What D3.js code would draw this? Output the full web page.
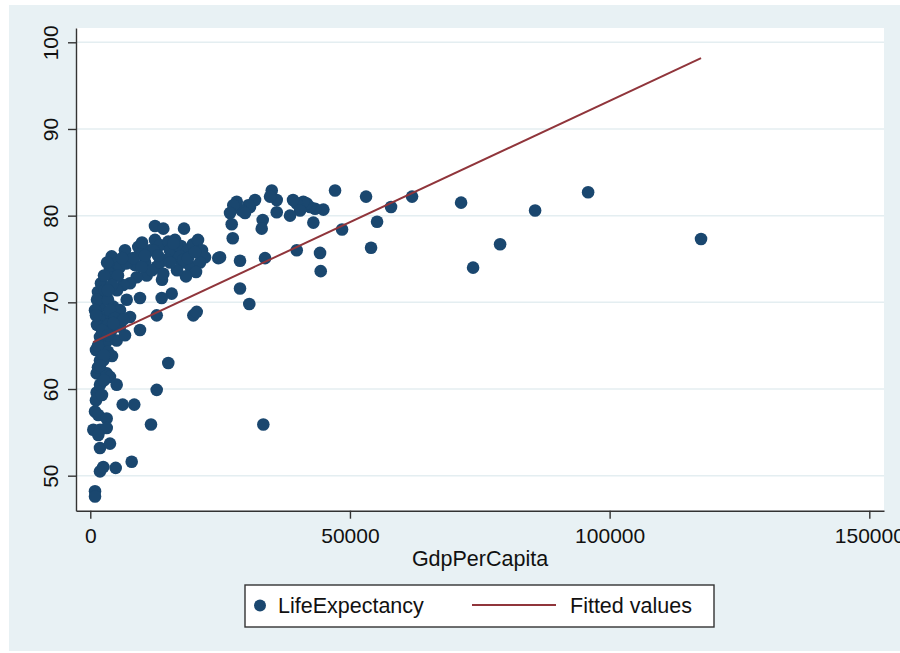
<!DOCTYPE html>
<html lang="en">
<head>
<meta charset="UTF-8">
<title>LifeExpectancy vs GdpPerCapita</title>
<script src="https://cdn.jsdelivr.net/npm/d3@7"></script>
<style>
    body { margin: 0; background: #fff; }
    svg text { font-family: "Liberation Sans", Arial, Helvetica, sans-serif; fill: #111; }
</style>
</head>
<body>
<div id="chart"></div>
<script>
// GDP per capita / life expectancy
var gdpPerCapita = [
    117600, 95860, 85650, 78910, 73710, 71400, 61960, 57910, 55220, 54060, 53100, 48480, 47130,
    44240, 44370, 39750, 42950, 44880, 43280, 42310, 41680, 41020, 39750, 39040, 40390, 38460,
    35900, 35900, 34940, 34610, 33650, 33320, 33200, 33010,
    30760, 31720, 30430, 29160, 28200, 27540, 26910, 27230, 29800, 27430, 28830, 28830, 30620, 24650,
    18050, 12460, 14060, 19840, 20490, 15020, 12790, 11690, 15680, 13750, 12790, 9570, 9570,
    16310, 17470, 18620, 19780, 20740, 21510, 22090, 16510, 17660, 19200, 21130, 20360, 18430, 16700, 24980,
    4120, 3790, 4430, 5080, 5720, 7650, 9240, 9570, 11500, 12460, 13420, 15020, 15350, 16640, 17280,
    14710, 12790, 10860, 8940, 7650, 6680, 10540, 11880, 13810, 8610, 9960, 13420, 6300, 5140,
    7010, 8280, 12130, 9900, 17910, 14060, 15990,
    2500, 1870, 2830, 4430, 5720, 7010, 7650, 5720, 4120, 1870, 2500, 5080, 3160, 1480, 1290,
    1870, 3410, 3790, 1290, 3410, 910, 4760, 6360, 4430, 6680, 3410, 1100, 4180, 2060, 2830,
    1870, 2500, 1230, 3160, 3790, 5080, 1230, 1870, 910, 1540, 3160, 580, 1870, 3160, 1540,
    1870, 3790, 1870, 2500, 4890, 7970, 910, 910, 6240, 8470, 1100, 2250, 2640, 1480,
    3240, 5340, 4180, 2640, 6110, 3410, 1100, 2250, 3410, 1480, 2640, 1870,
    10540, 13040, 18810, 20170, 15350
];
var lifeExpectancy = [
    77.3, 82.7, 80.6, 76.7, 74.0, 81.5, 82.2, 81.0, 79.3, 76.3, 82.2, 78.4, 82.9,
    75.7, 73.6, 76.0, 79.2, 80.7, 80.8, 81.0, 81.4, 81.6, 81.4, 81.8, 80.6, 80.0,
    81.8, 80.4, 82.9, 82.2, 75.1, 55.9, 79.5, 78.5,
    81.0, 81.8, 81.2, 80.6, 81.6, 81.2, 80.3, 79.0, 80.3, 77.4, 74.8, 71.6, 69.8, 75.1,
    78.5, 78.8, 78.5, 68.5, 68.9, 63.0, 59.9, 55.9, 71.0, 70.5, 68.5, 66.8, 70.5,
    77.2, 76.5, 75.9, 76.7, 77.2, 76.0, 75.2, 75.4, 74.6, 74.2, 74.6, 73.5, 73.0, 73.7, 75.2,
    75.3, 73.9, 72.9, 74.5, 74.1, 74.9, 76.4, 75.6, 76.0, 77.2, 76.6, 77.0, 76.0, 76.6, 75.3,
    74.9, 74.1, 73.1, 72.9, 72.2, 76.0, 74.6, 73.7, 72.6, 74.3, 76.9, 74.6, 72.0, 71.4,
    74.5, 75.1, 76.0, 74.1, 74.9, 73.3, 76.8,
    70.6, 69.5, 68.3, 69.5, 69.1, 70.3, 68.3, 67.2, 66.8, 66.0, 64.9, 65.6, 65.5, 71.2, 70.3,
    68.0, 70.3, 69.1, 67.4, 67.4, 69.1, 68.2, 68.0, 67.6, 66.2, 64.3, 64.5, 63.8, 72.2, 71.4,
    63.3, 63.3, 61.8, 61.8, 61.4, 60.5, 59.6, 60.5, 57.4, 57.0, 56.6, 55.3, 55.3, 55.5, 54.7,
    53.2, 53.7, 50.5, 51.0, 50.9, 51.6, 48.2, 47.6, 58.2, 58.2, 58.7, 59.3, 61.0, 62.5,
    74.6, 73.1, 72.0, 73.1, 75.1, 71.4, 68.5, 66.8, 66.2, 65.0, 63.9, 62.7,
    75.4, 75.4, 75.1, 75.8, 74.6
];
var xTicks = [0, 50000, 100000, 150000];
var yTicks = [50, 60, 70, 80, 90, 100];
// linear fit
var fitIntercept = 65.25;
var fitSlope = 0.00028;

var w = 900, h = 653;
var plot = { left: 76, right: 884, top: 28, bottom: 510.7 };

var points = gdpPerCapita.map(function(g, i) { return { gdp: g, le: lifeExpectancy[i] }; });

var svg = d3.select('#chart').append('svg')
    .attr('width', w)
    .attr('height', h);

// outer graph region
svg.append('rect')
    .attr('x', 9).attr('y', 5)
    .attr('width', w - 9).attr('height', 646)
    .attr('fill', '#e8f1f4');

svg.append('rect')
    .attr('x', plot.left).attr('y', plot.top)
    .attr('width', plot.right - plot.left)
    .attr('height', plot.bottom - plot.top)
    .attr('fill', '#fff');

var x = d3.scaleLinear().domain([-2750, 152830]).range([plot.left, plot.right]);
var y = d3.scaleLinear().domain([45.96, 101.65]).range([plot.bottom, plot.top]);

// gridlines
svg.append('g').selectAll('line')
    .data(yTicks)
    .enter().append('line')
    .attr('x1', plot.left).attr('x2', plot.right)
    .attr('y1', function(d) { return y(d); })
    .attr('y2', function(d) { return y(d); })
    .attr('stroke', '#e4eef1')
    .attr('stroke-width', 1.5);

// scatter
svg.append('g').selectAll('circle')
    .data(points)
    .enter().append('circle')
    .attr('cx', function(d) { return x(d.gdp); })
    .attr('cy', function(d) { return y(d.le); })
    .attr('r', 6.3)
    .attr('fill', '#1a476f');

// fitted line over the range of x
var gx = d3.extent(gdpPerCapita);
var fit = gx.map(function(g) { return { gdp: g, le: fitIntercept + fitSlope * g }; });
svg.append('path')
    .datum(fit)
    .attr('fill', 'none')
    .attr('stroke', '#90353b')
    .attr('stroke-width', 2)
    .attr('d', d3.line()
        .x(function(d) { return x(d.gdp); })
        .y(function(d) { return y(d.le); }));

// axes
var xAxis = svg.append('g')
    .attr('transform', 'translate(0,' + plot.bottom + ')')
    .call(d3.axisBottom(x).tickValues(xTicks).tickFormat(d3.format('d'))
        .tickSize(8).tickSizeOuter(0));
xAxis.selectAll('text')
    .attr('y', 32).attr('dy', 0)
    .style('font-size', '21px');

var yAxis = svg.append('g')
    .attr('transform', 'translate(' + plot.left + ',0)')
    .call(d3.axisLeft(y).tickValues(yTicks).tickSize(8).tickSizeOuter(0));
yAxis.selectAll('text')
    .attr('transform', 'rotate(-90)')
    .attr('text-anchor', 'middle')
    .attr('x', 0).attr('y', -18).attr('dy', 0)
    .style('font-size', '21px');

svg.selectAll('.domain, .tick line')
    .attr('stroke', '#333')
    .attr('stroke-width', 1.4);

svg.append('text')
    .attr('x', (plot.left + plot.right) / 2)
    .attr('y', 566)
    .attr('text-anchor', 'middle')
    .style('font-size', '21.5px')
    .text('GdpPerCapita');

// legend
var legend = svg.append('g');
legend.append('rect')
    .attr('x', 245).attr('y', 585)
    .attr('width', 469).attr('height', 42)
    .attr('fill', '#fff')
    .attr('stroke', '#333')
    .attr('stroke-width', 1.4);
legend.append('circle')
    .attr('cx', 260).attr('cy', 605.5).attr('r', 6)
    .attr('fill', '#1a476f');
legend.append('text')
    .attr('x', 278).attr('y', 613)
    .style('font-size', '21.5px')
    .text('LifeExpectancy');
legend.append('line')
    .attr('x1', 472).attr('x2', 556)
    .attr('y1', 605).attr('y2', 605)
    .attr('stroke', '#90353b')
    .attr('stroke-width', 2);
legend.append('text')
    .attr('x', 570).attr('y', 613)
    .style('font-size', '21.5px')
    .text('Fitted values');
</script>
</body>
</html>
